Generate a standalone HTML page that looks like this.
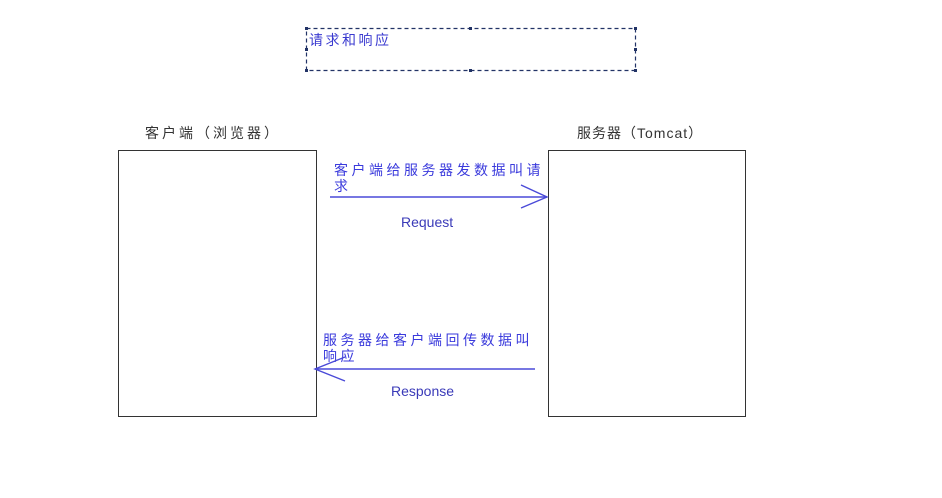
<!DOCTYPE html>
<html><head><meta charset="utf-8"><style>
html,body{margin:0;padding:0;background:#fff;width:942px;height:498px;overflow:hidden}
text{font-family:"Liberation Sans","Noto Sans CJK SC",sans-serif}
</style></head><body>
<svg width="942" height="498" xmlns="http://www.w3.org/2000/svg">
<rect x="306.5" y="28.5" width="329" height="42" fill="none" stroke="#223366" stroke-width="1.2" stroke-dasharray="4,3"/>
<g fill="#223366">
<rect x="305" y="27" width="3" height="3"/><rect x="469" y="27" width="3" height="3"/><rect x="634" y="27" width="3" height="3"/>
<rect x="305" y="48" width="3" height="3"/><rect x="634" y="48" width="3" height="3"/>
<rect x="305" y="69" width="3" height="3"/><rect x="469" y="69" width="3" height="3"/><rect x="634" y="69" width="3" height="3"/>
</g>
<text x="309" y="45" font-size="14" fill="#3a3ad0" letter-spacing="2.5">请求和响应</text>

<text x="145" y="138" font-size="14" fill="#333" letter-spacing="3">客户端（浏览器）</text>
<text x="577" y="138" font-size="14" fill="#333" letter-spacing="1">服务器（Tomcat）</text>

<rect x="118.5" y="150.5" width="198" height="266" fill="none" stroke="#333" stroke-width="1"/>
<rect x="548.5" y="150.5" width="197" height="266" fill="none" stroke="#333" stroke-width="1"/>

<g fill="#3a3adc" font-size="14" letter-spacing="3.5">
<text x="334" y="175">客户端给服务器发数据叫请</text>
<text x="334" y="191">求</text>
<text x="323" y="345">服务器给客户端回传数据叫</text>
<text x="323" y="361">响应</text>
</g>
<g stroke="#4a4ad8" stroke-width="1.4" fill="none">
<line x1="330" y1="197" x2="547" y2="197"/>
<polyline points="521,185 547,197 521,208"/>
<line x1="535" y1="369" x2="315" y2="369"/>
<polyline points="345,357 315,369 345,381"/>
</g>
<text x="401" y="227" font-size="14" fill="#3a3ab8">Request</text>
<text x="391" y="396" font-size="14" fill="#3a3ab8">Response</text>
</svg>
</body></html>
